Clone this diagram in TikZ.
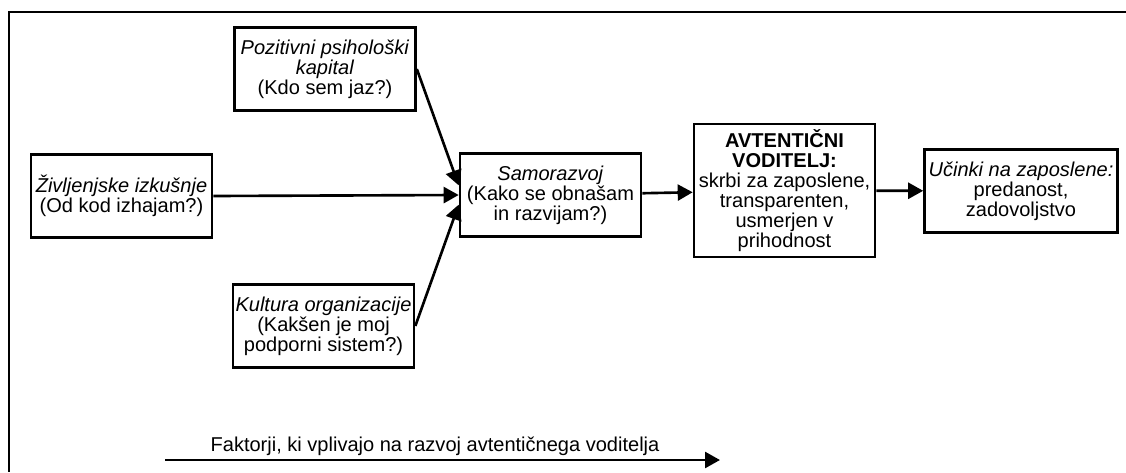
\documentclass[tikz,border=0pt]{standalone}
\usepackage{fontspec}
\setmainfont{Liberation Sans}
\usetikzlibrary{arrows.meta, positioning}

\begin{document}
\begin{tikzpicture}[
    okvir/.style={
        draw,
        line width=1.5pt,
        align=center,
        inner sep=1pt,
        minimum width=3.62cm,
        minimum height=1.66cm,
        font=\fontsize{11.4}{11.4}\selectfont
    },
    seta/.style={
        -{Triangle[length=0.3cm, width=0.32cm]},
        line width=1.5pt
    }
]

\useasboundingbox (0,0) rectangle (22.52,-9.44);
\draw[line width=1.2pt] (22.52,-0.24) -- (0.18,-0.24) -- (0.18,-9.44);

\node[okvir] (pozitivni) at (6.5,-1.38)
{\textit{Pozitivni psihološki}\\
\textit{kapital}\\
(Kdo sem jaz?)};

\node[okvir] (zivljenje) at (2.43,-3.92)
{\textit{Življenjske izkušnje}\\
(Od kod izhajam?)};

\node[okvir] (kultura) at (6.47,-6.52)
{\textit{Kultura organizacije}\\
(Kakšen je moj\\
podporni sistem?)};

\node[okvir] (samorazvoj) at (11.01,-3.9)
{\textit{Samorazvoj}\\
(Kako se obnašam\\
in razvijam?)};

\node[okvir, minimum height=2.66cm] (avtenticni) at (15.69,-3.81)
{\textbf{AVTENTIČNI}\\
\textbf{VODITELJ:}\\
skrbi za zaposlene,\\
transparenten,\\
usmerjen v\\
prihodnost};

\node[okvir, minimum width=3.86cm] (ucinki) at (20.42,-3.82)
{\textit{Učinki na zaposlene:}\\
predanost,\\
zadovoljstvo};

\draw[seta] (pozitivni.east) -- (samorazvoj.174);
\draw[seta] (zivljenje.east) -- (samorazvoj.west);
\draw[seta] (kultura.east) -- (samorazvoj.186);
\draw[seta] (samorazvoj) -- (avtenticni);
\draw[seta] (avtenticni) -- (ucinki);

\coordinate (faktorOd) at (3.3,-9.2);
\coordinate (faktorDo) at (14.4,-9.2);
\node[font=\fontsize{11.4}{11.4}\selectfont] (faktorji) at (8.7,-8.93)
{Faktorji, ki vplivajo na razvoj avtentičnega voditelja};
\draw[seta] (faktorOd) -- (faktorDo);

\end{tikzpicture}
\end{document}
